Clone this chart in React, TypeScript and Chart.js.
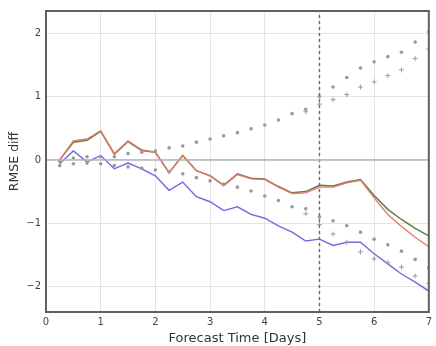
import React, { useEffect, useRef } from "react";
import { Chart, registerables } from "chart.js";

Chart.register(...registerables);

const days = [0.25, 0.5, 0.75, 1.0, 1.25, 1.5, 1.75, 2.0, 2.25, 2.5, 2.75, 3.0, 3.25, 3.5, 3.75, 4.0, 4.25, 4.5, 4.75, 5.0, 5.25, 5.5, 5.75, 6.0, 6.25, 6.5, 6.75, 7.0];

const greenSeries = [0.0, 0.28, 0.31, 0.45, 0.09, 0.29, 0.15, 0.12, -0.2, 0.07, -0.17, -0.25, -0.4, -0.22, -0.29, -0.3, -0.42, -0.52, -0.5, -0.4, -0.41, -0.35, -0.31, -0.56, -0.78, -0.94, -1.08, -1.2];
const redSeries = [0.0, 0.3, 0.33, 0.46, 0.1, 0.3, 0.16, 0.12, -0.2, 0.07, -0.17, -0.25, -0.41, -0.23, -0.3, -0.31, -0.43, -0.53, -0.52, -0.43, -0.43, -0.36, -0.32, -0.6, -0.86, -1.05, -1.22, -1.37];
const blueSeries = [-0.06, 0.14, -0.03, 0.07, -0.14, -0.05, -0.14, -0.25, -0.48, -0.35, -0.58, -0.66, -0.8, -0.74, -0.86, -0.92, -1.04, -1.14, -1.28, -1.25, -1.35, -1.3, -1.3, -1.48, -1.64, -1.8, -1.93, -2.07];

const upperA = [-0.02, 0.03, 0.05, 0.05, 0.05, 0.1, 0.12, 0.14, 0.19, 0.22, 0.28, 0.33, 0.38, 0.43, 0.49, 0.55, 0.63, 0.73, 0.8, 1.0, 1.15, 1.3, 1.45, 1.55, 1.63, 1.7, 1.86, 2.02];
const upperB = [null, null, null, null, null, null, null, null, null, null, null, null, null, null, null, null, null, null, 0.76, 0.88, 0.95, 1.03, 1.15, 1.23, 1.33, 1.42, 1.6, 1.75];
const lowerA = [-0.09, -0.06, -0.05, -0.06, -0.09, -0.11, -0.13, -0.16, -0.19, -0.22, -0.28, -0.33, -0.38, -0.43, -0.49, -0.57, -0.64, -0.74, -0.77, -0.9, -0.96, -1.04, -1.14, -1.25, -1.34, -1.44, -1.57, -1.7];
const lowerB = [null, null, null, null, null, null, null, null, null, null, null, null, null, null, null, null, null, null, -0.85, -1.02, -1.17, -1.3, -1.45, -1.56, -1.62, -1.69, -1.83, -1.95];

const xTicks = [0, 1, 2, 3, 4, 5, 6, 7];
const yTicks = [-2, -1, 0, 1, 2];
const markerDay = [5, 5];
const markerSpan = [-2.4, 2.35];

const pts = (ys: (number | null)[]) => days.map((d, i) => ({ x: d, y: ys[i] }));

export default function App() {
  const ref = useRef<HTMLCanvasElement | null>(null);

  useEffect(() => {
    if (!ref.current) return;
    const frame = {
      id: "frame",
      afterDatasetsDraw(chart: any) {
        const { ctx, chartArea: a } = chart;
        ctx.save();
        ctx.strokeStyle = "#606060";
        ctx.lineWidth = 2;
        ctx.strokeRect(a.left, a.top, a.right - a.left, a.bottom - a.top);
        ctx.restore();
      },
    };
    const font = { family: "DejaVu Sans", size: 10 };
    const chart = new Chart(ref.current, {
      type: "scatter",
      data: {
        datasets: [
          { label: "zero", data: [{ x: 0, y: 0 }, { x: 7, y: 0 }], showLine: true, borderColor: "#b4b4b4", borderWidth: 1.5, pointRadius: 0 },
          { label: "day5", data: markerDay.map((d, i) => ({ x: d, y: markerSpan[i] })), showLine: true, borderColor: "#707070", borderWidth: 1.5, borderDash: [3, 3], pointRadius: 0 },
          { label: "upperA", data: pts(upperA), showLine: false, pointStyle: "circle", pointRadius: 1.8, backgroundColor: "#9a9a9a", borderColor: "#9a9a9a", borderWidth: 0 },
          { label: "upperB", data: pts(upperB), showLine: false, pointStyle: "cross", pointRadius: 2.5, borderColor: "#9a9ab0", borderWidth: 1 },
          { label: "lowerA", data: pts(lowerA), showLine: false, pointStyle: "circle", pointRadius: 1.8, backgroundColor: "#9a9a9a", borderColor: "#9a9a9a", borderWidth: 0 },
          { label: "lowerB", data: pts(lowerB), showLine: false, pointStyle: "cross", pointRadius: 2.5, borderColor: "#9a9ab0", borderWidth: 1 },
          { label: "blue", data: pts(blueSeries), showLine: true, borderColor: "#6b6be0", borderWidth: 1.4, pointRadius: 0 },
          { label: "red", data: pts(redSeries), showLine: true, borderColor: "#e67a6a", borderWidth: 1.4, pointRadius: 0 },
          { label: "green", data: pts(greenSeries), showLine: true, borderColor: "#627a44", borderWidth: 1.5, pointRadius: 0 },
        ],
      },
      options: {
        animation: false,
        responsive: false,
        maintainAspectRatio: false,
        layout: { padding: { top: 10, right: 3, left: 0, bottom: 0 } },
        plugins: { legend: { display: false }, tooltip: { enabled: false } },
        scales: {
          x: {
            type: "linear",
            min: 0,
            max: 7,
            afterBuildTicks: (s: any) => { s.ticks = xTicks.map((v) => ({ value: v })); },
            afterFit: (s: any) => { s.height = 34; },
            grid: { color: "#e4e4e4", lineWidth: 1, drawTicks: false },
            border: { display: false },
            ticks: { color: "#444", font, padding: 4, callback: (v: any) => String(v) },
            title: { display: true, text: "Forecast Time [Days]", color: "#333", font: { family: "DejaVu Sans", size: 13 }, padding: { top: 0, bottom: 0 } },
          },
          y: {
            type: "linear",
            min: -2.4,
            max: 2.35,
            afterBuildTicks: (s: any) => { s.ticks = yTicks.map((v) => ({ value: v })); },
            afterFit: (s: any) => { s.width = 46; },
            grid: { color: "#e4e4e4", lineWidth: 1, drawTicks: false },
            border: { display: false },
            ticks: { color: "#444", font, padding: 5, callback: (v: any) => String(v).replace("-", "\u2212") },
            title: { display: true, text: "RMSE diff", color: "#333", font: { family: "DejaVu Sans", size: 12.5 }, padding: { top: 7, bottom: 2 } },
          },
        },
      },
      plugins: [frame],
    } as any);
    return () => chart.destroy();
  }, []);

  return (
    <div style={{ position: "fixed", left: 0, top: 0, width: 436, height: 346, background: "#fff" }}>
      <canvas ref={ref} width={436} height={346} style={{ width: 436, height: 346, display: "block" }} />
    </div>
  );
}
